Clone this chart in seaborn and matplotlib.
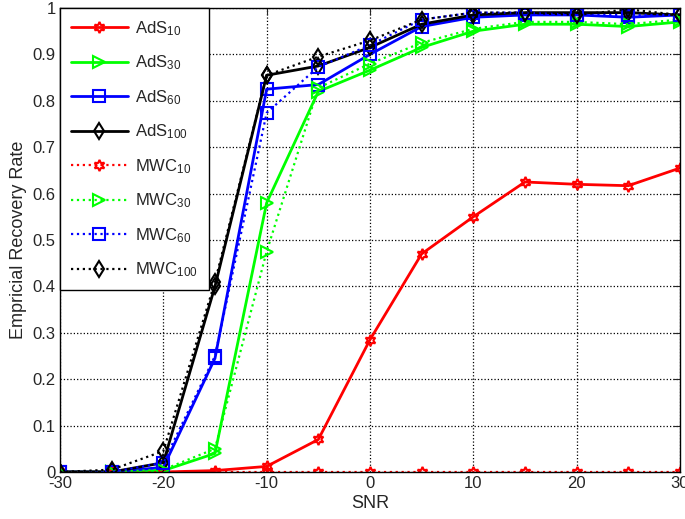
import pandas as pd
import numpy as np
import matplotlib
matplotlib.use("Agg")
import matplotlib.pyplot as plt
import seaborn as sns

snr = [-30, -25, -20, -15, -10, -5, 0, 5, 10, 15, 20, 25, 30]

ads10 = [0, 0, 0, 0.003, 0.012, 0.07, 0.285, 0.47, 0.55, 0.625, 0.62, 0.617, 0.655]
ads30 = [0, 0, 0.003, 0.04, 0.58, 0.82, 0.866, 0.915, 0.95, 0.965, 0.965, 0.96, 0.97]
ads60 = [0, 0, 0.01, 0.245, 0.825, 0.835, 0.90, 0.96, 0.98, 0.985, 0.985, 0.98, 0.985]
ads100 = [0, 0, 0.02, 0.40, 0.855, 0.875, 0.915, 0.965, 0.985, 0.99, 0.99, 0.99, 0.985]
mwc10 = [0, 0, 0, 0, 0, 0, 0, 0, 0, 0, 0, 0, 0]
mwc30 = [0, 0, 0.005, 0.05, 0.475, 0.828, 0.88, 0.925, 0.955, 0.97, 0.97, 0.965, 0.975]
mwc60 = [0, 0, 0.02, 0.25, 0.774, 0.873, 0.92, 0.975, 0.99, 0.99, 0.985, 0.985, 0.985]
mwc100 = [0, 0.005, 0.045, 0.41, 0.855, 0.895, 0.93, 0.975, 0.99, 0.99, 0.985, 0.997, 0.985]

series = [
    ("AdS$_{10}$", ads10, "#ff0000", "-", (6, 1, 0)),
    ("AdS$_{30}$", ads30, "#00ff00", "-", ">"),
    ("AdS$_{60}$", ads60, "#0000ff", "-", "s"),
    ("AdS$_{100}$", ads100, "#000000", "-", "d"),
    ("MWC$_{10}$", mwc10, "#ff0000", ":", (6, 1, 0)),
    ("MWC$_{30}$", mwc30, "#00ff00", ":", ">"),
    ("MWC$_{60}$", mwc60, "#0000ff", ":", "s"),
    ("MWC$_{100}$", mwc100, "#000000", ":", "d"),
]

sns.set_style("white")
plt.rcParams['font.family'] = ['Liberation Sans', 'DejaVu Sans']
plt.rcParams['mathtext.fontset'] = 'custom'
plt.rcParams['mathtext.rm'] = 'Liberation Sans'
plt.rcParams['mathtext.it'] = 'Liberation Sans'
plt.rcParams['axes.unicode_minus'] = False

fig = plt.figure(figsize=(6.85, 5.19), dpi=100)
ax = fig.add_axes([0.0876, 0.0906, 0.905, 0.894])

for name, vals, col, ls, mk in series:
    df = pd.DataFrame({"SNR": snr, "rate": vals})
    lw = 2 if ls == "-" else 1.6
    sns.lineplot(data=df, x="SNR", y="rate", ax=ax, color=col, linestyle=ls,
                 linewidth=lw, marker=mk, markersize=8, markerfacecolor="none",
                 markeredgecolor=col, markeredgewidth=1.5, label=name)

ax.set_xlim(-30, 30)
ax.set_ylim(0, 1)
ax.set_xticks(np.arange(-30, 31, 10))
ax.set_yticks(np.arange(0, 1.01, 0.1))
ax.set_yticklabels(["0", "0.1", "0.2", "0.3", "0.4", "0.5", "0.6", "0.7", "0.8", "0.9", "1"])
ax.grid(True, color="black", linestyle=":", linewidth=0.9)
ax.tick_params(direction="in", labelsize=12, length=5, pad=3, top=True, right=True,
               labeltop=False, labelright=False)
for sp in ax.spines.values():
    sp.set_color("black")
    sp.set_linewidth(1)
ax.set_xlabel("SNR", fontsize=13, labelpad=3)
ax.set_ylabel("Empricial Recovery Rate", fontsize=13, labelpad=4)

leg = ax.legend(loc="upper left", borderaxespad=0, fancybox=False, edgecolor="black",
                framealpha=1, fontsize=12, handlelength=3.4, handletextpad=0.45,
                labelspacing=0.95, borderpad=0.65)
leg.get_frame().set_linewidth(1)

fig.savefig("out.png", dpi=100)
